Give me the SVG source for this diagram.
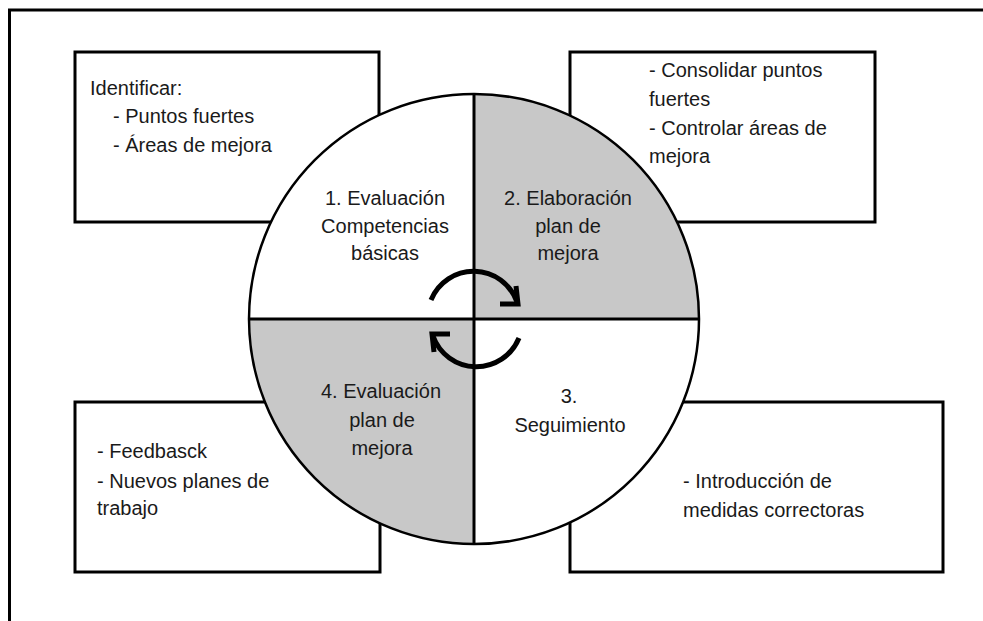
<svg xmlns="http://www.w3.org/2000/svg" width="983" height="621" viewBox="0 0 983 621">
<style>
.box{fill:#fff;stroke:#000;stroke-width:3}
.t{font-family:"Liberation Sans",Arial,sans-serif;font-size:20px;fill:#1a1a1a}
.c{text-anchor:middle}
.ln{stroke:#000;stroke-width:3;fill:none}
.arc{stroke:#000;stroke-width:5;fill:none;stroke-linecap:butt}
</style>
<rect width="983" height="621" fill="#fff"/>
<g id="frame"><path d="M9.5 621 V10 H983" class="ln" stroke-width="2.5"/></g>
<g id="box-tl"><rect class="box" x="75" y="52" width="304" height="170"/>
<text class="t" x="90" y="95">Identificar:</text>
<text class="t" x="113" y="123">- Puntos fuertes</text>
<text class="t" x="113" y="152">- Áreas de mejora</text></g>
<g id="box-tr"><rect class="box" x="570" y="52" width="305" height="170"/>
<text class="t" x="649" y="77">- Consolidar puntos</text>
<text class="t" x="649" y="106">fuertes</text>
<text class="t" x="649" y="135">- Controlar áreas de</text>
<text class="t" x="649" y="163">mejora</text></g>
<g id="box-bl"><rect class="box" x="75" y="402" width="305" height="170"/>
<text class="t" x="97" y="458">- Feedbasck</text>
<text class="t" x="97" y="488">- Nuevos planes de</text>
<text class="t" x="97" y="515">trabajo</text></g>
<g id="box-br"><rect class="box" x="570" y="402" width="373" height="170"/>
<text class="t" x="683" y="488">- Introducción de</text>
<text class="t" x="683" y="517">medidas correctoras</text></g>
<g id="cycle">
<circle cx="474" cy="319" r="225" fill="#fff"/>
<path d="M474 94 A225 225 0 0 1 699 319 H474 Z" fill="#c8c8c8"/>
<path d="M474 544 A225 225 0 0 1 249 319 H474 Z" fill="#c8c8c8"/>
<circle cx="474" cy="319" r="225" fill="none" stroke="#000" stroke-width="2.5"/>
<path d="M249 319 H699 M474 94 V544" class="ln"/>
</g>
<g id="q1"><text class="t c" x="385" y="205">1. Evaluación</text><text class="t c" x="385" y="233">Competencias</text><text class="t c" x="385" y="260">básicas</text></g>
<g id="q2"><text class="t c" x="568" y="205">2. Elaboración</text><text class="t c" x="568" y="233">plan de</text><text class="t c" x="568" y="260">mejora</text></g>
<g id="q3"><text class="t c" x="569" y="403">3.</text><text class="t c" x="570" y="432">Seguimiento</text></g>
<g id="q4"><text class="t c" x="381" y="398">4. Evaluación</text><text class="t c" x="382" y="427">plan de</text><text class="t c" x="382" y="455">mejora</text></g>
<g id="connectors">
<path class="arc" d="M431 300 A46 46 0 0 1 517 302"/>
<path class="arc" d="M500 304 H518 L516 286" stroke-linejoin="miter"/>
<path class="arc" d="M519 338 A46 46 0 0 1 433 336"/>
<path class="arc" d="M450 334 H432 L434 352" stroke-linejoin="miter"/>
</g>
</svg>
